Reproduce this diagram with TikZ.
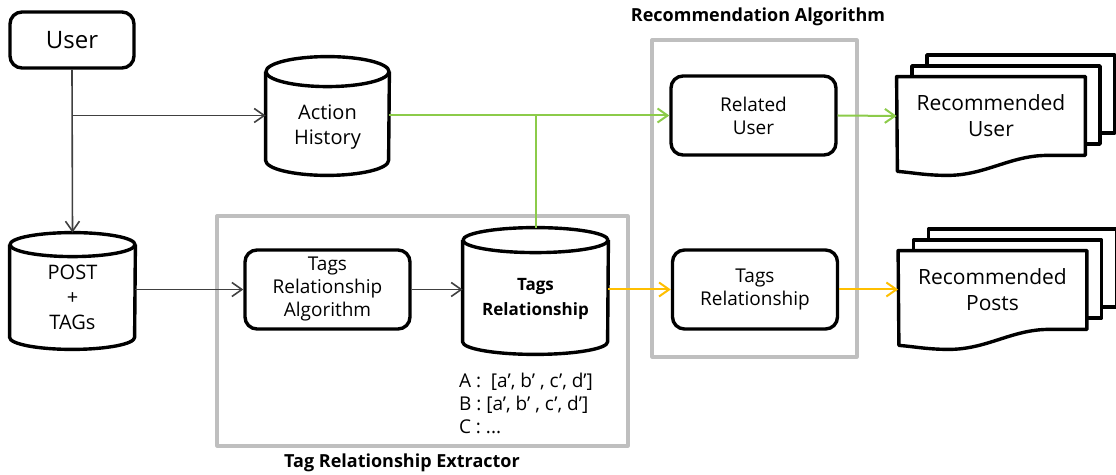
\documentclass[tikz,border=0pt]{standalone}
\usepackage{fontspec}
\setmainfont{Open Sans}
\usetikzlibrary{arrows.meta,positioning}
\definecolor{flowgray}{HTML}{404040}
\definecolor{flowgreen}{HTML}{8CCB4A}
\definecolor{flowyellow}{HTML}{FFBF00}
\definecolor{framegray}{HTML}{BFBFBF}
% bottom wave of a document node
\newcommand{\docwave}[1]{%
  \draw[shapeline] (#1.north west) -- (#1.north east) -- (#1.south east) -- ++(-38,0)
    .. controls +(-37,0) and +(38,0) .. ++(-100,20)
    .. controls +(-22,0) and +(14,1) .. ++(-50,-4) -- cycle;}
% database drum: node spans from the middle of the lid to the bottom
\newcommand{\drum}[3]{%
  \draw[shapeline] (#1.north west) -- ([yshift=#3]#1.south west)
    arc[start angle=180, end angle=360, x radius=#2, y radius=#3] -- (#1.north east);
  \draw[shapeline] (#1.north) ellipse [x radius=#2, y radius=#3];}
\begin{document}
\begin{tikzpicture}[x=0.5pt, y=-0.5pt, line join=round, >={Straight Barb[length=5pt,width=7pt]},
  box/.style={draw, line width=1.7pt, rounded corners=6pt, align=center, inner sep=0pt,
    minimum width=82.5pt, minimum height=39.5pt, font=\fontsize{9.5}{11.5}\selectfont},
  db/.style={inner sep=0pt, align=center, font=\fontsize{10}{12.5}\selectfont},
  page/.style={draw, fill=white, line width=1.7pt, inner sep=0pt, minimum width=94pt, minimum height=39pt},
  docnode/.style={inner sep=0pt, minimum width=94pt, minimum height=39pt, align=center,
    font=\fontsize{10.5}{13}\selectfont},
  shapeline/.style={draw, fill=white, line width=1.7pt},
  framebox/.style={draw=framegray, line width=1.6pt},
  framelabel/.style={font=\fontsize{9}{11}\selectfont\bfseries},
  link/.style={->, flowgray, line width=0.8pt},
  glink/.style={flowgreen, line width=1pt},
  ylink/.style={->, flowyellow, line width=1pt}]
\useasboundingbox (0,0) rectangle (1116,475);

% frames
\draw[framebox] (217,216) rectangle (628,446);
\draw[framebox] (652,40) rectangle (857,357);
\node[framelabel] (ralabel) at (758,17) {Recommendation Algorithm};
\node[framelabel] (trelabel) at (402,463) {Tag Relationship Extractor};

% nodes
\node[box, minimum width=62pt, minimum height=28pt, font=\fontsize{12}{14}\selectfont] (user) at (72,40) {User};
\node[db, minimum width=61.5pt, minimum height=51.5pt] (ah) at (327.5,123.5) {};
\drum{ah}{30.75pt}{7.5pt}
\node[db] at ([yshift=-2pt]ah.center) {Action\\History};
\node[db, minimum width=62.5pt, minimum height=52pt] (post) at (72.5,297) {};
\drum{post}{31.25pt}{6pt}
\node[db] at (post) {POST\\+\\TAGs};
\node[box] (tra) at (327.5,289.5) {Tags\\Relationship\\Algorithm};
\node[db, minimum width=72.5pt, minimum height=56.75pt] (tr) at (535.5,297.25) {};
\drum{tr}{36.25pt}{6.25pt}
\node[db, font=\fontsize{8.5}{12.5}\selectfont\bfseries] at ([yshift=-1pt]tr.center) {Tags\\Relationship};
\node[anchor=west, align=left, font=\fontsize{9.5}{11.5}\selectfont] (tlist) at (452,403)
  {A :\ \ [a’, b’ , c’, d’]\\B : [a’, b’ , c’, d’]\\C : ...};
\node[box] (ru) at (753.5,115.5) {Related\\User};
\node[box] (trb) at (755,289.5) {Tags\\Relationship};

% document stacks
\node[page] (rup3) at (1021,94) {};
\node[page] (rup2) at (1006,105) {};
\node[docnode] (rud) at (991,116) {};
\docwave{rud}
\node[docnode] at (rud) {Recommended\\User};
\node[page] (rpp3) at (1022.5,268) {};
\node[page] (rpp2) at (1007.5,279) {};
\node[docnode] (rpd) at (992.5,290) {};
\docwave{rpd}
\node[docnode] at (rpd) {Recommended\\Posts};

% connectors
\draw[link] (user.south) -- ([yshift=6pt]post.north);
\draw[link] (user.south |- ru.west) -- (ah.west |- ru.west);
\draw[link] (post.east |- tra.west) -- (tra.west);
\draw[link] (tra.east) -- (tra.east -| tr.west);
\draw[glink, ->] (ah.east |- ru.west) -- (ru.west);
\draw[glink] ([yshift=6.25pt]tr.north) -- (tr.north |- ru.west);
\draw[glink, ->] (ru.east) -- (rud.west);
\draw[ylink] (tr.east |- trb.west) -- (trb.west);
\draw[ylink] (trb.east) -- (rpd.west |- trb.east);
\end{tikzpicture}
\end{document}
